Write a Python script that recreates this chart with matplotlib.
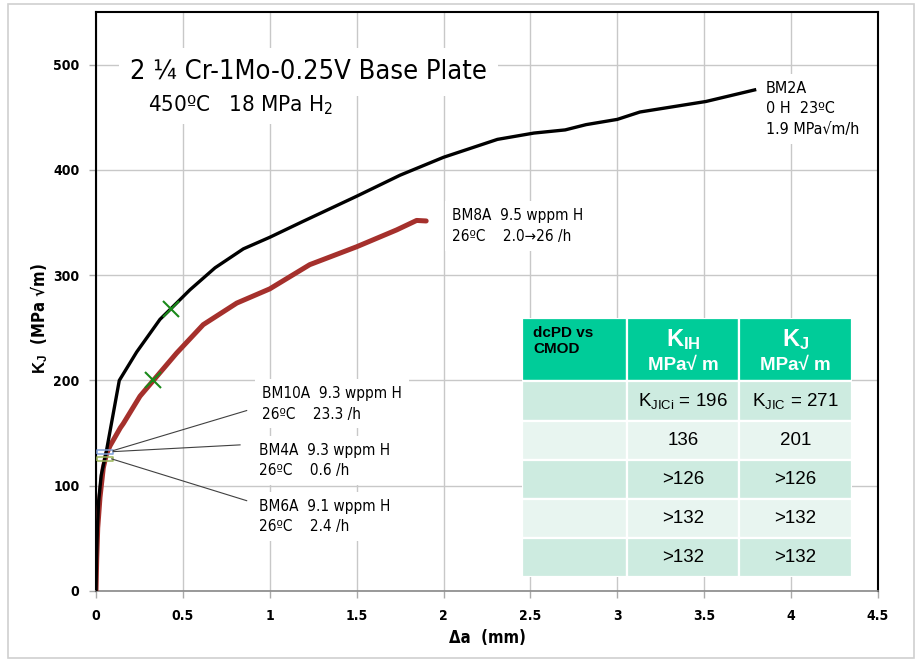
import matplotlib
matplotlib.use("Agg")
import matplotlib.pyplot as plt
from matplotlib.patches import Rectangle

# BM2A (0 H, black) and BM8A (9.5 wppm H, red) resistance curves
bm2a_da = [0, 0.003, 0.008, 0.015, 0.03, 0.06, 0.134, 0.234, 0.368, 0.43, 0.54,
           0.685, 0.848, 1.0, 1.19, 1.5, 1.75, 2.0, 2.31, 2.52, 2.7, 2.82, 3.0,
           3.13, 3.51, 3.79]
bm2a_kj = [0, 30, 60, 85, 110, 133, 200, 227, 258, 268, 286,
           307, 325, 336, 351, 375, 395, 412, 429, 435, 438, 443, 448,
           455, 465, 476]

bm8a_da = [0, 0.004, 0.01, 0.023, 0.042, 0.06, 0.081, 0.14, 0.157, 0.253, 0.33,
           0.464, 0.617, 0.81, 1.0, 1.23, 1.5, 1.73, 1.845, 1.90]
bm8a_kj = [0, 30, 60, 89, 117, 130, 138, 155, 159, 185, 200,
           226, 253, 273.5, 287, 310, 327, 343, 352, 351.5]

# initiation points (green crosses)
init_da = [0.43, 0.33]
init_kj = [268, 200]

# short tests BM4A / BM6A end points
bm4a_pt = (0.053, 132)
bm6a_pt = (0.053, 125)

x_ticks = [0, 0.5, 1, 1.5, 2, 2.5, 3, 3.5, 4, 4.5]
x_tick_labels = ["0", "0.5", "1", "1.5", "2", "2.5", "3", "3.5", "4", "4.5"]
y_ticks = [0, 100, 200, 300, 400, 500]

table_header = ["dcPD vs\nCMOD", r"$\mathbf{K_{IH}}$", r"$\mathbf{K_{J}}$"]
col_kih = [r"$\mathsf{K_{JICi}}$ = 196", "136", ">126", ">132", ">132"]
col_kj = [r"$\mathsf{K_{JIC}}$ = 271", "201", ">126", ">132", ">132"]

plt.rcParams["font.family"] = ["DejaVu Sans"]
plt.rcParams["font.stretch"] = "condensed"
plt.rcParams["mathtext.fontset"] = "custom"
plt.rcParams["mathtext.rm"] = "DejaVu Sans:stretch=condensed"
plt.rcParams["mathtext.it"] = "DejaVu Sans:italic:stretch=condensed"
plt.rcParams["mathtext.sf"] = "Liberation Sans"
plt.rcParams["mathtext.bf"] = "Liberation Sans:bold"

fig = plt.figure(figsize=(9.22, 6.66), dpi=100)
ax = fig.add_axes([96 / 922, 1 - 591 / 666, 782 / 922, 579 / 666])

fig.patches.append(Rectangle((8 / 922, 1 - 658 / 666), 906 / 922, 654 / 666,
                             transform=fig.transFigure, fill=False,
                             edgecolor="#d0d0d0", lw=1.2))

ax.set_xlim(0, 4.5)
ax.set_ylim(0, 550)
ax.set_xticks(x_ticks)
ax.set_xticklabels(x_tick_labels)
ax.set_yticks(y_ticks)
ax.grid(True, color="#c8c8c8", lw=1.0)
ax.set_axisbelow(True)
for s in ["left", "top", "right"]:
    ax.spines[s].set_color("black")
    ax.spines[s].set_linewidth(1.5)
ax.spines["bottom"].set_color("#888888")
ax.spines["bottom"].set_linewidth(1.2)
ax.tick_params(direction="out", length=5, color="#aaaaaa", width=1,
               labelsize=10)
ax.tick_params(axis="x", pad=8)
ax.tick_params(axis="y", pad=7)
for lab in ax.get_xticklabels() + ax.get_yticklabels():
    lab.set_fontweight("bold")

ax.set_xlabel("Δa  (mm)", fontsize=12, fontweight="bold")
ax.xaxis.set_label_coords(0.5, -0.065)
ax.set_ylabel(r"$\mathbf{K_J}$  (MPa √m)", fontsize=12, fontweight="bold")
ax.yaxis.set_label_coords(-0.059, 0.47)

ax.plot(bm8a_da, bm8a_kj, color="#a5302c", lw=3.6, solid_capstyle="round",
        zorder=3)
ax.plot(bm2a_da, bm2a_kj, color="black", lw=2.4, zorder=4)
ax.plot(init_da, init_kj, ls="none", marker="x", color="#1a8a1a", ms=11,
        mew=1.5, zorder=5)

rect_marker = [(-1, -0.22), (1, -0.22), (1, 0.22), (-1, 0.22), (-1, -0.22)]
ax.plot([bm4a_pt[0]], [bm4a_pt[1]], ls="none", marker=rect_marker, ms=12,
        mfc="none", mec="#7f9fd8", mew=1.1, zorder=6)
ax.plot([bm6a_pt[0]], [bm6a_pt[1]], ls="none", marker=rect_marker, ms=12,
        mfc="none", mec="#9bb55a", mew=1.1, zorder=6)

white = dict(facecolor="white", edgecolor="none", pad=5)

ax.text(0.196, 493, "2 ¼ Cr-1Mo-0.25V Base Plate", fontsize=19.5, va="center",
        bbox=dict(facecolor="white", edgecolor="none", pad=8), zorder=7)
ax.text(0.30, 461, "450ºC   18 MPa H$_2$", fontsize=16, va="center",
        bbox=white, zorder=7)

ax.text(3.855, 458, "BM2A\n0 H  23ºC\n1.9 MPa√m/h", fontsize=11.5,
        va="center", linespacing=1.45, bbox=white, zorder=7)
ax.text(2.048, 347, "BM8A  9.5 wppm H\n26ºC    2.0→26 /h", fontsize=11,
        va="center", linespacing=1.5, bbox=white, zorder=7)

# leader lines to the short-test labels
leaders = [((0.099, 133.4), (0.867, 171.4)),
           ((0.099, 132.4), (0.829, 138.8)),
           ((0.09, 125.5), (0.867, 85.8))]
for (p0, p1) in leaders:
    ax.plot([p0[0], p1[0]], [p0[1], p1[1]], color="#404040", lw=0.8, zorder=6)

short_labels = [(0.955, 177.8, "BM10A  9.3 wppm H\n26ºC    23.3 /h"),
                (0.94, 124.0, "BM4A  9.3 wppm H\n26ºC    0.6 /h"),
                (0.94, 70.8, "BM6A  9.1 wppm H\n26ºC    2.4 /h")]
for (lx, ly, txt) in short_labels:
    ax.text(lx, ly, txt, fontsize=11, va="center", linespacing=1.45,
            bbox=white, zorder=7)

# table
tax = fig.add_axes([522 / 922, 1 - 577 / 666, 330 / 922, 259 / 666])
tax.set_xlim(0, 330)
tax.set_ylim(259, 0)
tax.axis("off")
col_edges = [0, 105, 217, 330]
row_edges = [0, 63, 103, 142, 181, 220, 259]
row_colors = ["#00cc99", "#cdebe0", "#e8f5f0", "#cdebe0", "#e8f5f0", "#cdebe0"]
for r in range(6):
    for c in range(3):
        tax.add_patch(Rectangle((col_edges[c], row_edges[r]),
                                col_edges[c + 1] - col_edges[c],
                                row_edges[r + 1] - row_edges[r],
                                facecolor=row_colors[r], edgecolor="white",
                                lw=1.6))

tax.text(11, 8, table_header[0], fontsize=11, fontweight="bold",
         family="Liberation Sans", stretch="normal", va="top", ha="left",
         linespacing=1.15)
for c in (1, 2):
    cx = (col_edges[c] + col_edges[c + 1]) / 2
    tax.text(cx, 22, table_header[c], fontsize=17, color="white",
             ha="center", va="center")
    tax.text(cx, 47, "MPa√ m", fontsize=13.5, color="white", ha="center",
             va="center", fontweight="bold", family="Liberation Sans",
             stretch="normal")
for r in range(5):
    cy = (row_edges[r + 1] + row_edges[r + 2]) / 2
    for c, col in ((1, col_kih), (2, col_kj)):
        cx = (col_edges[c] + col_edges[c + 1]) / 2
        tax.text(cx, cy, col[r], fontsize=13.5, ha="center", va="center",
                 family="Liberation Sans", stretch="normal")

fig.savefig("out.png", dpi=100, facecolor="white")
